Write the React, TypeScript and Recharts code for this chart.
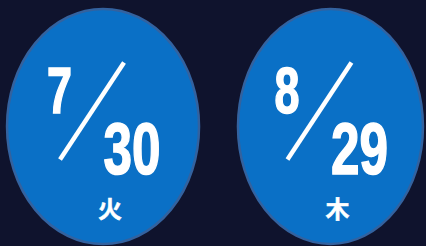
import React from 'react';
import { ScatterChart, Scatter, XAxis, YAxis } from 'recharts';

const months = [7, 8];
const days = [30, 29];
const weekdays = ['火', '木'];

const points = months.map((m, i) => ({
    x: i,
    y: 0,
    month: m,
    day: days[i],
    weekday: weekdays[i]
}));

const ELLIPSE_RX = [96, 92.5];
const ELLIPSE_RY = 117.5;

const digitFont = '"Liberation Sans Narrow", "Liberation Sans", Arial, sans-serif';

function DateBadge(props: any) {
    const { cx, cy, payload, index } = props;
    if (cx == null || cy == null) return null;
    const rx = ELLIPSE_RX[index] ?? 94;
    return (
        <g>
            <ellipse cx={cx} cy={cy} rx={rx} ry={ELLIPSE_RY} fill="#0a70c6" stroke="#33629f" strokeWidth={2.5} />
            <text
                x={cx - 56}
                y={cy - 14}
                fontFamily={digitFont}
                fontWeight="bold"
                fontSize={64}
                fill="#fff"
                stroke="#fff"
                strokeWidth={1.6}
                textLength={25}
                lengthAdjust="spacingAndGlyphs"
            >
                {payload.month}
            </text>
            <line x1={cx - 43} y1={cy + 33} x2={cx + 21} y2={cy - 64} stroke="#fff" strokeWidth={4.5} />
            <text
                x={cx + 0.5}
                y={cy + 47.5}
                fontFamily={digitFont}
                fontWeight="bold"
                fontSize={72}
                fill="#fff"
                stroke="#fff"
                strokeWidth={1.6}
                textLength={57}
                lengthAdjust="spacingAndGlyphs"
            >
                {payload.day}
            </text>
            <text
                x={cx + 7}
                y={cy + 81}
                textAnchor="middle"
                dominantBaseline="central"
                fontFamily='"Noto Sans CJK JP", sans-serif'
                fontWeight="bold"
                fontSize={24}
                fill="#fff"
                stroke="#fff"
                strokeWidth={0.5}
            >
                {payload.weekday}
            </text>
        </g>
    );
}

export default function App() {
    return (
        <div style={{ position: 'fixed', left: 0, top: 0, width: 426, height: 246, background: '#0f132d' }}>
            <ScatterChart width={426} height={246} margin={{ top: 7, right: 0, bottom: 0, left: 0 }}>
                <XAxis type="number" dataKey="x" domain={[-0.453, 1.42]} hide />
                <YAxis type="number" dataKey="y" domain={[-1, 1]} hide />
                <Scatter data={points} shape={<DateBadge />} isAnimationActive={false} />
            </ScatterChart>
        </div>
    );
}
